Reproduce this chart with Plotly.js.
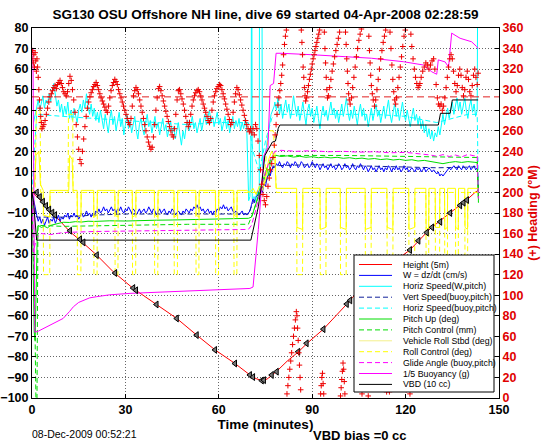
<!DOCTYPE html>
<html><head><meta charset="utf-8">
<script src="https://cdn.plot.ly/plotly-3.0.1.min.js"></script>
<style>html,body{margin:0;padding:0;background:#fff}#c{width:546px;height:442px}</style>
</head><body><div id="c"></div>
<script>
// ---------------- DATA ----------------
const titleText = 'SG130 OSU Offshore NH line, dive 69 started 04-Apr-2008 02:28:59';
const xTitle = 'Time (minutes)';
const y2Title = '(+) Heading (°M)';
const stampText = '08-Dec-2009 00:52:21';
const vbdBiasText = 'VBD bias =0 cc';
const legendLabels = ['Height (5m)','W = dz/dt (cm/s)','Horiz Speed(W,pitch)','Vert Speed(buoy,pitch)','Horiz Speed(buoy,pitch)','Pitch Up (deg)','Pitch Control (mm)','Vehicle Roll Stbd (deg)','Roll Control (deg)','Glide Angle (buoy,pitch)','1/5 Buoyancy (g)','VBD (10 cc)'];

// Height (5m)
const heightT = [0,1,3.5,7,12.2,15.4,20.8,26.1,32.5,39.5,46.5,52.9,58.8,65.2,70,72,73.8,75.5,78.6,82,85.6,88.3,93.6,101,103,110,115,121.4,128,134.4,139.6,142.3,143.3];
const heightV = [0,-1.2,-5,-10.5,-19.1,-23.2,-30.5,-38.6,-46.7,-54,-61.3,-69.4,-76.6,-83.2,-88.8,-90.6,-91.5,-90.8,-87,-82,-77.5,-73.5,-66.5,-54.5,-51,-41,-35,-28,-17.5,-9.8,-3.7,0,1];
// markers along the depth trace
const markT = [1.5,2.5,3.5,4.5,5.5,6.5,7.4,12.2,15.4,16.5,20.8,26.7,32.5,33.4,40,46.5,52.9,58.8,65.2,70,71,73.8,74.5,77,78.6,85.5,88.2,93.6,101.1,102.2,121.4,124.1,126.8,128.5,131.1,134.3,137.5,138.6,139.7];
const markV = [0,-2.2,-4.5,-6.5,-8.3,-9.8,-11,-18.6,-22.8,-24.3,-30.5,-39.2,-46.5,-47.6,-54.5,-61.3,-69.4,-76.6,-83.2,-88.8,-89.8,-91.5,-91.3,-88.8,-87.2,-77.5,-73.4,-66.5,-54.3,-52.5,-28,-23.5,-19.5,-17,-14.3,-10,-6.3,-5,-3.7];

// W = dz/dt : start, descent (every 0.5 min from 2.0), transition, ascent (every 0.5 min from 78.0)
const wStartT = [0,0.5,1.0,1.5];
const wStartV = [0,-3,-7,-11];
const wDesc = [-14,-12,-15,-13,-16,-14,-12,-15,-13,-14,-12,-15,-13,-11,-14,-12,-13,-11,-12,-10,-13,-11,-12,-10,-12,-11,-13,-11,-10,-12,-11,-9,-11,-10,-12,-10,-11,-9,-10,-8,-10,-9,-7,-9,-8,-10,-8,-7,-9,-8,-10,-8,-9,-7,-9,-10,-8,-9,-7,-9,-10,-8,-9,-11,-9,-8,-10,-9,-8,-10,-9,-7,-9,-10,-8,-9,-11,-9,-8,-10,-9,-8,-10,-11,-9,-10,-8,-9,-11,-10,-9,-10,-11,-9,-10,-8,-9,-10,-8,-9,-7,-8,-6,-8,-7,-9,-8,-10,-9,-8,-10,-9,-11,-9,-10,-8,-9,-7,-8,-6,-8,-7,-9,-8,-7,-9,-10,-9,-10,-11,-10,-9,-11,-10,-11];
const wTransT = [69.5,70,70.5,71,71.5,72,72.5,73,73.5,74,74.5,75,75.5,76,76.5,77,77.5];
const wTransV = [-10,-9,-6,-3,-5,-2,1,-1,2,0,4,3,7,9,8,11,13];
const wAsc = [12,14,13,15,13,12,14,13,15,14,12,14,13,15,14,12,13,15,14,12,13,14,12,13,15,13,12,14,13,11,13,14,12,13,11,13,14,12,13,11,12,14,13,11,12,14,12,13,11,12,14,12,11,13,12,14,12,11,13,12,10,12,13,11,12,10,12,13,11,12,10,12,11,13,12,10,12,11,13,11,12,10,11,13,11,12,10,11,12,11,10,12,11,12,10,11,12,10,11,12,11,10,11,10,9,10,8,9,8,9,10,11,12,11,12,13,12,11,13,12,11,13,12,11,12,13,11,12,13,11,12];

// Horiz Speed (W,pitch): descent every 0.5 min from 1.0, transition, ascent every 0.5 min from 78.0
const hsDesc = [38,42,45,40,44,47,41,45,43,48,44,50,53,46,42,45,39,43,37,42,38,44,36,40,35,41,38,34,40,43,39,45,41,48,42,38,43,37,41,35,39,34,40,36,31,38,34,29,36,40,33,37,30,35,39,32,36,28,34,38,31,35,29,33,37,30,26,33,36,31,28,34,38,32,35,29,33,37,31,34,28,32,36,30,33,27,31,35,29,32,26,30,34,28,23,30,26,32,35,30,33,37,31,34,29,33,36,30,34,38,33,36,40,34,37,32,35,39,33,36,30,34,37,31,35,29,33,37,31,35,32,36,30,34,31,36,30];
const hsTransT = [0.5,69.3,69.6,70.0,70.4,70.55,70.75,71.3,71.8,72.3,73.0,73.1,73.8,74.0,74.3,74.8,75.3,75.8,76.3,76.8,77.3,77.8];
const hsTransV = [34,15,-4,-2,30,150,-3,-2,-4,0,-2,150,150,12,14,18,22,28,33,38,40,42];
const hsAsc = [44,40,46,38,43,36,41,45,39,43,36,40,47,41,37,42,35,39,44,38,33,40,43,37,41,34,38,42,36,31,38,42,37,40,35,39,44,38,41,36,40,34,38,43,37,41,46,39,35,40,36,42,38,33,39,43,37,41,35,38,32,37,41,35,39,43,37,40,34,38,42,36,40,45,38,34,39,43,37,41,35,39,44,38,35,40,36,32,37,41,35,38,33,37,31,35,29,33,27,31,26,30,25,29,27,32,28,34,38,33,37,41,36,40,44,38,42,46,40,44,38,42,46,40,36,42,45,39,43,37,40];
const hsEndT = [143.4];
const hsEndV = [200];

// Vert Speed (buoy,pitch)
const vsT = [0,1.5,10,20,30,50,69.5,71,73,75,77,78,90,100,110,120,130,140,143,143.4];
const vsV = [0,-12,-12,-11,-10.5,-10.5,-10.5,-5,0,5,11,13,13.5,13.2,12.8,12.4,12,12.3,12.5,2];
// Horiz Speed (buoy,pitch)
const hbT = [0,1.5,10,20,30,40,50,60,69.5,71,73,75,77,78,90,100,110,120,130,140,143,143.4];
const hbV = [0,38,37,36,35,34,33,34,34,20,10,25,36,38,38,38,38,37,34,38,38,0];
// Pitch Up (deg)
const pitchT = [0,0.3,0.7,1.0,1.3,1.7,2,3,4,5,6,7,8,9,10,12,14,16,18,20,25,30,35,40,45,50,55,60,65,69.5,70.5,71.5,72.5,73.5,74.5,75.5,76,76.5,77.5,78.5,80,82,84,86,88,90,92,94,96,98,100,102,104,106,108,110,112,114,116,118,120,122,124,126,128,130,132,134,136,138,140,142,143,143.4];
const pitchV = [0,-30,-68,-72,-45,-20,-16,-17,-16.5,-17.2,-16,-15.6,-15.2,-14.8,-14.5,-14.6,-14.2,-14.4,-14,-14.1,-13.8,-13.9,-13.6,-13.5,-13.4,-13.2,-13.1,-13,-12.8,-12.6,-12,-8,-3,3,6,12,8,14,17,18,17.5,17.8,17.2,17.6,17.1,17.4,16.9,17.2,16.8,17.1,16.6,16.9,16.4,16.7,16.2,16.5,16,16.3,15.8,16.1,15.6,15.9,15.3,15.6,15,14.5,14,14.6,15,14.6,15,14.7,14.5,-4];
// Pitch Control (mm)
const pcT = [0,0.5,1.0,1.5,1.9,10,30,50,69.5,71,73,75,77,78,100,120,135,143,143.4];
const pcV = [0,-40,-70,-130,-16,-16.5,-16,-15.5,-15.5,-10,0,10,17,18,18,17.5,17,17,-5];
// Vehicle Roll Stbd (deg)
const rollT = [0,0.8,1.3,2.2,2.7,3.6,3.7,5.7,5.8,11.8,12.1,12.9,13.2,14.5,14.6,15.7,15.8,19.8,19.9,20.9,21.0,26.6,26.7,27.6,27.7,32.2,32.3,33.3,33.4,39.3,39.4,40.4,40.5,45.6,45.7,46.7,46.8,52.6,52.7,53.6,53.7,58.9,59.0,59.9,60.0,64.8,64.9,65.8,65.9,69,70,71,72,73,74,75,76,77,78,78.4,85.0,85.1,86.9,87.0,92.5,92.6,94.4,94.5,99.0,99.1,100.9,101.0,107.0,107.1,108.9,109.0,114.0,114.1,115.9,116.0,121.0,121.1,122.9,123.0,126.5,126.6,127.4,127.5,129.5,129.6,130.9,131.0,132.5,132.6,133.4,133.5,136.0,136.1,136.9,137.0,139.0,139.1,139.9,140.0,143.4];
const rollV = [0,4,18,20,4,1,-11,-12,1,1,18,16,1,1,-11,-12,1,1,-12,-11,1,1,-11,-12,1,1,-12,-11,1,1,-11,-12,1,1,-12,-11,1,1,-11,-12,1,1,-12,-11,1,1,-11,-12,1,1,0,2,-1,3,1,6,16,20,17,2,2,-17,-18,2,2,-18,-17,2,2,-17,-18,2,2,-18,-17,2,2,-17,-18,2,2,-18,-17,2,2,-17,-18,2,2,-17,-17,2,2,-18,-17,2,2,-17,-18,2,2,-17,-18,2,2];
// Roll Control (deg)
const rcT = [0,1.0,1.4,2.6,2.8,3.6,3.7,5.7,5.8,11.6,11.7,13.1,13.2,14.5,14.6,15.7,15.8,19.8,19.9,20.9,21.0,26.6,26.7,27.6,27.7,32.2,32.3,33.3,33.4,39.3,39.4,40.4,40.5,45.6,45.7,46.7,46.8,52.6,52.7,53.6,53.7,58.9,59.0,59.9,60.0,64.8,64.9,65.8,65.9,73,74.5,75.5,76,77.5,78,78.5,85.0,85.1,86.9,87.0,92.5,92.6,94.4,94.5,99.0,99.1,100.9,101.0,107.0,107.1,108.9,109.0,114.0,114.1,115.9,116.0,121.0,121.1,122.9,123.0,126.5,126.6,127.4,127.5,129.5,129.6,130.9,131.0,132.5,132.6,133.4,133.5,136.0,136.1,136.9,137.0,139.0,139.1,139.9,140.0,143.4];
const rcV = [0,0,40,40,0,0,-40,-40,0,0,38,38,0,0,-40,-40,0,0,-40,-40,0,0,-40,-40,0,0,-40,-40,0,0,-40,-40,0,0,-40,-40,0,0,-40,-40,0,0,-40,-40,0,0,-40,-40,0,0,5,20,30,30,20,0,0,-40,-40,0,0,-40,-40,0,0,-40,-40,0,0,-40,-40,0,0,-40,-40,0,0,-40,-40,0,0,-40,-40,0,0,-40,-40,0,0,-40,-40,0,0,-40,-40,0,0,-40,-40,0,0];
// Glide Angle (buoy,pitch)
const gaT = [0,0.4,1.5,3,6,10,20,30,40,50,60,69.5,70.5,72,73.5,75,76.5,78,80,85,90,95,100,105,110,115,120,125,128,130,132,134,136,138,140,142,143,143.4];
const gaV = [0,-29,-22,-20,-20.5,-19.5,-19,-18.8,-18.5,-18.4,-18.2,-18,-16,-8,2,10,16,20,20.5,20,20.3,19.8,20,19.6,19.8,19.3,19.5,18.8,18.2,17.6,18.4,17.5,18.2,17.3,18.5,17.8,18,-3];
// 1/5 Buoyancy (g)
const buoyT = [0,0.3,0.6,0.9,2,4,6,8,10,12,13.3,15,16.5,18.5,20.8,25,31.5,40,52.9,60,70,71,72.7,74.5,75.8,76.5,77.6,78.4,80,90,100,109,119.3,125.7,128.4,130,130.5,132.7,133.8,134.8,137.5,141.2,142.8,143.3];
const buoyV = [70,70,0,-68,-67.5,-66,-64.5,-63,-61.3,-58,-55.6,-53.5,-52.4,-51.3,-50.7,-49.8,-49.1,-48.6,-47.8,-47.3,-46.7,-46,-18,18,22,52,53,67.7,67.7,67,66.2,65.3,63.6,62,58.7,57.5,64.5,63.5,61,77.5,75,73.3,71,70];
// VBD (10 cc)
const vbdT = [0,0.5,1.5,70.3,72.7,73.8,74.8,76,77.2,78.2,79.1,79.6,130.5,131.2,134.3,135,143.3];
const vbdV = [0,-5,-23.2,-23.2,-7,4.4,18,21,24.5,25,31.2,32.8,32.8,38.5,38.5,45,45];

// Heading (deg, right axis)
const headT = [0.0,0.2,0.4,0.6,0.8,1.0,1.2,1.4,1.6,1.8,2.0,2.2,2.4,2.6,2.8,3.0,3.2,3.5,3.8,4.2,4.6,5.0,5.4,5.8,6.2,6.6,7.0,7.4,7.8,8.2,8.6,9.0,9.4,9.8,10.2,10.6,11.0,11.4,11.8,12.2,12.6,13.0,13.4,13.8,14.2,14.6,15.0,15.4,15.8,16.2,16.6,17.0,17.4,17.8,18.2,18.6,19.0,19.4,19.8,20.2,20.6,21.0,21.4,21.8,22.2,22.6,23.0,23.4,23.8,24.2,24.6,25.0,25.4,25.8,26.2,26.6,27.0,27.4,27.8,28.2,28.6,29.0,29.4,29.8,30.2,30.6,31.0,31.4,31.8,32.2,32.6,33.0,33.4,33.8,34.2,34.6,35.0,35.4,35.8,36.2,36.6,37.0,37.4,37.8,38.2,38.6,39.0,39.4,39.8,40.2,40.6,41.0,41.4,41.8,42.2,42.6,43.0,43.4,43.8,44.2,44.6,45.0,45.4,45.8,46.2,46.6,47.0,47.4,47.8,48.2,48.6,49.0,49.4,49.8,50.2,50.6,51.0,51.4,51.8,52.2,52.6,53.0,53.4,53.8,54.2,54.6,55.0,55.4,55.8,56.2,56.6,57.0,57.4,57.8,58.2,58.6,59.0,59.4,59.8,60.2,60.6,61.0,61.4,61.8,62.2,62.6,63.0,63.4,63.8,64.2,64.6,65.0,65.4,65.8,66.2,66.6,67.0,67.4,67.8,68.2,68.6,69.0,69.4,69.8,70.2,70.6,71.0,71.4,71.8,72.2,72.6,73.0,73.4,73.8,74.2,74.6,75.0,75.4,75.8,76.2,76.6,77.0,77.4,77.8,78.1,78.4,78.7,79.0,79.3,79.6,79.9,80.2,80.5,80.8,81.1,81.4,81.7,
81.9,82.2,82.5,82.8,83.1,83.4,83.7,84.0,84.3,84.6,84.9,85.1,85.3,85.5,85.7,85.9,86.1,86.3,86.5,86.7,86.9,87.1,87.3,87.5,87.7,87.9,88.2,88.5,88.8,89.1,89.4,89.7,90.0,90.3,90.6,90.9,91.2,91.5,91.8,92.1,92.4,92.7,92.9,93.1,93.3,93.5,93.7,93.9,94.1,94.3,94.5,94.7,94.9,95.2,95.6,96.0,96.4,96.8,97.2,97.6,98.0,98.4,98.8,99.1,99.3,99.5,99.7,99.9,100.1,100.3,100.5,100.7,100.9,101.1,101.3,101.5,101.7,101.9,102.2,102.6,103.0,103.4,103.8,104.2,104.6,105.0,105.4,105.8,106.0,106.3,106.6,106.9,107.2,107.5,107.8,108.0,108.2,108.4,108.6,108.8,109.0,109.3,109.6,110.0,110.4,110.8,111.2,111.6,112.0,112.4,112.8,113.2,113.6,113.9,114.2,114.5,114.8,115.0,115.3,115.6,115.9,116.2,116.5,116.8,117.1,117.5,117.9,118.3,118.7,119.1,119.5,119.9,120.2,120.5,120.8,121.1,121.4,121.7,122.0,122.4,122.8,123.2,123.6,124.0,124.3,124.6,125.0,125.5,126.0,126.5,127.0,127.5,128.0,128.5,129.0,129.4,129.8,130.2,130.6,131.0,131.4,131.8,132.2,132.6,133.0,133.4,133.8,134.2,134.6,135.0,135.4,135.8,136.2,136.6,137.0,137.4,137.8,138.2,138.6,139.0,139.4,139.8,140.2,140.6,141.0,141.4,141.8,142.2,142.6,143.0,143.3];
const headH = [330,338,326,334,322,336,328,318,330,322,312,300,290,282,274,268,262,264,266,270,276,282,288,293,296,299,302,304,301,305,307,309,306,302,298,296,294,298,306,313,309,300,290,278,266,254,242,232,228,240,252,264,274,282,288,293,297,300,303,305,307,304,300,296,292,289,286,283,280,278,284,292,299,304,307,310,308,305,300,296,292,288,284,280,276,272,268,266,272,284,294,299,302,300,296,290,284,278,272,266,260,254,249,245,242,244,254,266,280,292,301,303,299,294,289,284,279,274,269,264,260,256,254,262,276,290,299,300,296,291,286,280,274,268,264,268,276,284,290,294,297,299,300,298,294,290,286,282,278,274,270,268,272,280,288,294,298,301,303,305,304,300,296,291,286,281,276,271,266,268,278,288,296,302,300,295,290,285,280,275,270,266,262,259,262,258,262,256,266,262,250,236,222,208,198,192,188,196,206,214,222,228,234,246,256,266,276,285,292,299,306,314,324,334,344,352,358,
4,12,20,28,36,44,52,60,68,76,84,80,68,56,44,32,20,8,358,346,334,322,312,302,294,289,292,298,304,310,315,320,325,330,334,338,342,346,350,354,358,4,12,20,24,14,4,356,340,326,312,300,292,294,302,310,318,325,332,338,344,350,356,2,10,18,26,34,28,16,4,356,344,330,318,306,296,290,286,292,302,312,322,332,340,348,354,359,4,12,20,28,32,24,12,2,352,338,326,314,304,296,290,284,290,300,310,320,330,338,346,352,358,6,14,18,6,356,340,324,310,298,290,286,292,302,312,322,332,342,352,358,8,18,26,16,4,354,342,330,320,312,306,302,304,306,312,318,322,326,324,320,324,328,330,320,305,292,286,284,286,280,284,292,302,312,322,330,334,330,318,306,298,304,314,320,314,302,294,300,312,318,310,298,294,304,314,320,312,305,316];
const headTargetT = [0,150];
const headTargetH = [293,293];

// ---------------- BUILD ----------------
function grid(t0, dt, n){ const a=[]; for(let i=0;i<n;i++) a.push(Math.round((t0+i*dt)*100)/100); return a; }
const wX = [].concat(wStartT, grid(2.0,0.5,wDesc.length), wTransT, grid(78.0,0.5,wAsc.length));
const wY = [].concat(wStartV, wDesc, wTransV, wAsc);
const hsX0 = [].concat(grid(1.0,0.5,hsDesc.length), hsTransT.slice(1), grid(78.0,0.5,hsAsc.length), hsEndT);
const hsY0 = [].concat(hsDesc, hsTransV.slice(1), hsAsc, hsEndV);
const hsX = [hsTransT[0]].concat(hsX0), hsY = [hsTransV[0]].concat(hsY0);

const C = {red:'#ff0000', blue:'#0000ff', cyan:'#00ffff', navy:'#10209a', green:'#00dd00', yellow:'#ffff00', mag:'#ff00ff', black:'#000000'};
const DASH = '5px,3px';
const styles = [
  {c:C.red,d:'solid'},{c:C.blue,d:'solid'},{c:C.cyan,d:'solid'},{c:C.navy,d:DASH},{c:C.cyan,d:DASH},
  {c:C.green,d:'solid'},{c:C.green,d:DASH},{c:'#f4f08a',d:'solid'},{c:C.yellow,d:DASH},{c:C.mag,d:DASH},{c:C.mag,d:'solid'},{c:C.black,d:'solid'}];
function ln(x,y,color,dash,w){ return {x:x,y:y,type:'scatter',mode:'lines',line:{color:color,dash:dash||'solid',width:w||1},showlegend:false,hoverinfo:'skip'}; }

const traces = [
  ln(heightT,heightV,C.red),
  ln(wX,wY,C.blue),
  ln(hbT,hbV,C.cyan,DASH),
  ln(hsX,hsY,C.cyan),
  ln(vsT,vsV,C.navy,DASH),
  ln(pitchT,pitchV,C.green),
  ln(pcT,pcV,C.green,DASH),
  ln(rollT,rollV,C.yellow),
  ln(rcT,rcV,C.yellow,DASH),
  ln(gaT,gaV,C.mag,DASH),
  ln(buoyT,buoyV,C.mag),
  ln(vbdT,vbdV,C.black),
  {x:markT,y:markV,type:'scatter',mode:'markers',marker:{symbol:'triangle-left',size:6,color:'#777',line:{color:'black',width:1}},showlegend:false,hoverinfo:'skip'},
  {x:headTargetT,y:headTargetH,yaxis:'y2',type:'scatter',mode:'lines',line:{color:'#e02020',dash:'7px,4px',width:1},showlegend:false,hoverinfo:'skip'},
  {x:headT,y:headH,yaxis:'y2',type:'scatter',mode:'markers',marker:{symbol:'cross-thin-open',size:4,color:'#ee0000',line:{color:'#ee0000',width:1}},showlegend:false,hoverinfo:'skip'}
];

// plot area in pixels (layout only)
const L=32, R=499, T=28, B=398;
const px = p => (p-L)/(R-L);
const py = p => (B-p)/(B-T);
const FONT = 'Liberation Sans, Arial, Helvetica, sans-serif';

const shapes = [{type:'rect',xref:'paper',yref:'paper',x0:px(354),x1:px(494),y0:py(392),y1:py(255),fillcolor:'white',line:{color:'black',width:1},layer:'above'}];
const annotations = [];
legendLabels.forEach((lab,i)=>{
  const yy = 264.5 + i*10.9;
  shapes.push({type:'line',xref:'paper',yref:'paper',x0:px(359),x1:px(392),y0:py(yy),y1:py(yy),line:{color:styles[i].c,dash:styles[i].d,width:1},layer:'above'});
  annotations.push({text:lab,xref:'paper',yref:'paper',x:px(402),y:py(yy),xanchor:'left',yanchor:'middle',showarrow:false,font:{family:FONT,size:8.8,color:'black'},borderpad:0});
});
annotations.push({text:stampText,xref:'paper',yref:'paper',x:px(31),y:py(434),xanchor:'left',yanchor:'middle',showarrow:false,font:{family:FONT,size:10.5,color:'black'},borderpad:0});
annotations.push({text:vbdBiasText,xref:'paper',yref:'paper',x:px(359.5),y:py(435),xanchor:'center',yanchor:'middle',showarrow:false,font:{family:FONT,size:13,color:'black',weight:'bold'},borderpad:0});

const layout = {
  width:546,height:442,autosize:false,
  margin:{l:L,r:546-R,t:T,b:442-B,pad:0},
  paper_bgcolor:'white',plot_bgcolor:'white',
  showlegend:false,
  font:{family:FONT,color:'black'},
  title:{text:titleText,x:0.5,xref:'paper',xanchor:'center',y:1-14/442,yref:'container',yanchor:'middle',font:{family:FONT,size:13.5,weight:'bold',color:'black'}},
  xaxis:{range:[0,150],tickmode:'linear',tick0:0,dtick:30,ticks:'inside',ticklen:4,tickcolor:'black',showline:true,linecolor:'black',linewidth:1,mirror:'ticks',showgrid:true,gridcolor:'#666',griddash:'1px,2px',gridwidth:1,zeroline:false,
    tickfont:{family:FONT,size:12.5,weight:'bold',color:'black'},title:{text:xTitle,font:{family:FONT,size:13.5,weight:'bold',color:'black'},standoff:1}},
  yaxis:{range:[-100,80],tickmode:'linear',tick0:-100,dtick:10,ticks:'inside',ticklen:4,tickcolor:'black',showline:true,linecolor:'black',linewidth:1,mirror:true,showgrid:true,gridcolor:'#666',griddash:'1px,2px',gridwidth:1,zeroline:false,
    tickfont:{family:FONT,size:12.5,weight:'bold',color:'black'}},
  yaxis2:{range:[0,360],overlaying:'y',side:'right',tickmode:'linear',tick0:0,dtick:20,ticks:'inside',ticklen:4,tickcolor:'black',showline:true,linecolor:'black',showgrid:false,zeroline:false,
    tickfont:{family:FONT,size:12.5,weight:'bold',color:'#e00000'},title:{text:y2Title,font:{family:FONT,size:12.5,weight:'bold',color:'#e00000'},standoff:5}},
  shapes:shapes,annotations:annotations
};
Plotly.newPlot('c',traces,layout,{staticPlot:true,displayModeBar:false});
</script></body></html>
